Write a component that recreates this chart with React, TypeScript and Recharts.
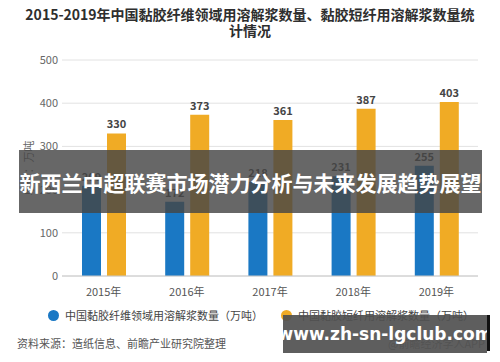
import React from "react";
import { BarChart, Bar, XAxis, YAxis, CartesianGrid, LabelList } from "recharts";

const categories = ["2015年", "2016年", "2017年", "2018年", "2019年"];
const fiberValues = [209, 172, 218, 231, 255];
const staple = [330, 373, 361, 387, 403];
const yTicks = [0, 100, 200, 300, 400, 500];
const seriesNames = ["中国黏胶纤维领域用溶解浆数量（万吨）", "中国黏胶短纤用溶解浆数量（万吨）"];
const colors = ["#1a78c4", "#f0ab25"];
const titleLines = ["2015-2019年中国黏胶纤维领域用溶解浆数量、黏胶短纤用溶解浆数量统", "计情况"];
const bannerText = "新西兰中超联赛市场潜力分析与未来发展趋势展望";
const watermark = "www.zh-sn-lgclub.com";
const sourceText = "资料来源：造纸信息、前瞻产业研究院整理";
const appText = "@前瞻经济学人APP";
const yLabel = "单位：万吨";

const data = categories.map((c, i) => ({ name: c, a: fiberValues[i], b: staple[i] }));
const FONT = "'Noto Sans CJK SC', 'Noto Sans', sans-serif";

export default function App() {
  return (
    <div style={{ position: "absolute", left: 0, top: 0, width: 500, height: 362, background: "#fff", fontFamily: FONT, overflow: "hidden" }}>
      <div style={{ position: "absolute", left: 0, top: 6, width: 500, textAlign: "center", fontSize: 14, fontWeight: 700, color: "#2e2e2e", lineHeight: "16px" }}>
        {titleLines.map((t, i) => <div key={i}>{t}</div>)}
      </div>
      <BarChart width={500} height={362} data={data} margin={{ top: 60, right: 22, bottom: 66, left: 0 }} barGap={6} barSize={19}>
        <CartesianGrid vertical={false} stroke="#e2e2e2" />
        <XAxis dataKey="name" axisLine={{ stroke: "#c8c8c8" }} tickLine={false} height={20} tick={{ fontSize: 11, fill: "#555", fontFamily: FONT }} tickMargin={6} />
        <YAxis domain={[0, 500]} ticks={yTicks} width={62} axisLine={false} tickLine={false} tickSize={3} tickMargin={1} tick={{ fontSize: 11, fill: "#666", fontFamily: FONT }} />
        <Bar dataKey="a" fill={colors[0]} isAnimationActive={false}>
          <LabelList dataKey="a" position="top" offset={5} style={{ fontSize: 11, fontWeight: 700, fill: "#444", fontFamily: FONT }} />
        </Bar>
        <Bar dataKey="b" fill={colors[1]} isAnimationActive={false}>
          <LabelList dataKey="b" position="top" offset={5} style={{ fontSize: 11, fontWeight: 700, fill: "#444", fontFamily: FONT }} />
        </Bar>
      </BarChart>
      <div style={{ position: "absolute", left: 28, top: 168, transform: "translate(-50%, -50%) rotate(-90deg)", fontSize: 11, color: "#666", whiteSpace: "nowrap" }}>{yLabel}</div>
      <div style={{ position: "absolute", left: 48, top: 307, display: "flex", alignItems: "center", fontSize: 11, color: "#444", whiteSpace: "nowrap" }}>
        <span style={{ width: 11, height: 11, borderRadius: "50%", background: colors[0], display: "inline-block", marginRight: 6 }} />
        <span>{seriesNames[0]}</span>
        <span style={{ width: 11, height: 11, borderRadius: "50%", background: colors[1], display: "inline-block", marginLeft: 18, marginRight: 6 }} />
        <span>{seriesNames[1]}</span>
      </div>
      <div style={{ position: "absolute", left: 17, top: 335, fontSize: 11, color: "#555", whiteSpace: "nowrap" }}>{sourceText}</div>
      <div style={{ position: "absolute", left: 388, top: 335, fontSize: 11, color: "#777", whiteSpace: "nowrap" }}>{appText}</div>
      <div style={{ position: "absolute", left: 19, top: 150, width: 463, height: 63, background: "rgba(70,70,70,0.82)", display: "flex", alignItems: "center", justifyContent: "center", color: "#fff", fontSize: 21, fontWeight: 700, whiteSpace: "nowrap" }}>{bannerText}</div>
      <div style={{ position: "absolute", left: 283, top: 315, width: 204, height: 38, background: "rgba(80,80,80,0.92)", display: "flex", alignItems: "center", justifyContent: "center", color: "#fff", fontSize: 17, fontWeight: 700, whiteSpace: "nowrap", fontFamily: "'DejaVu Sans', sans-serif" }}>{watermark}</div>
      <div style={{ position: "absolute", left: 487, top: 315, width: 3, height: 36, background: "#111" }} />
    </div>
  );
}
